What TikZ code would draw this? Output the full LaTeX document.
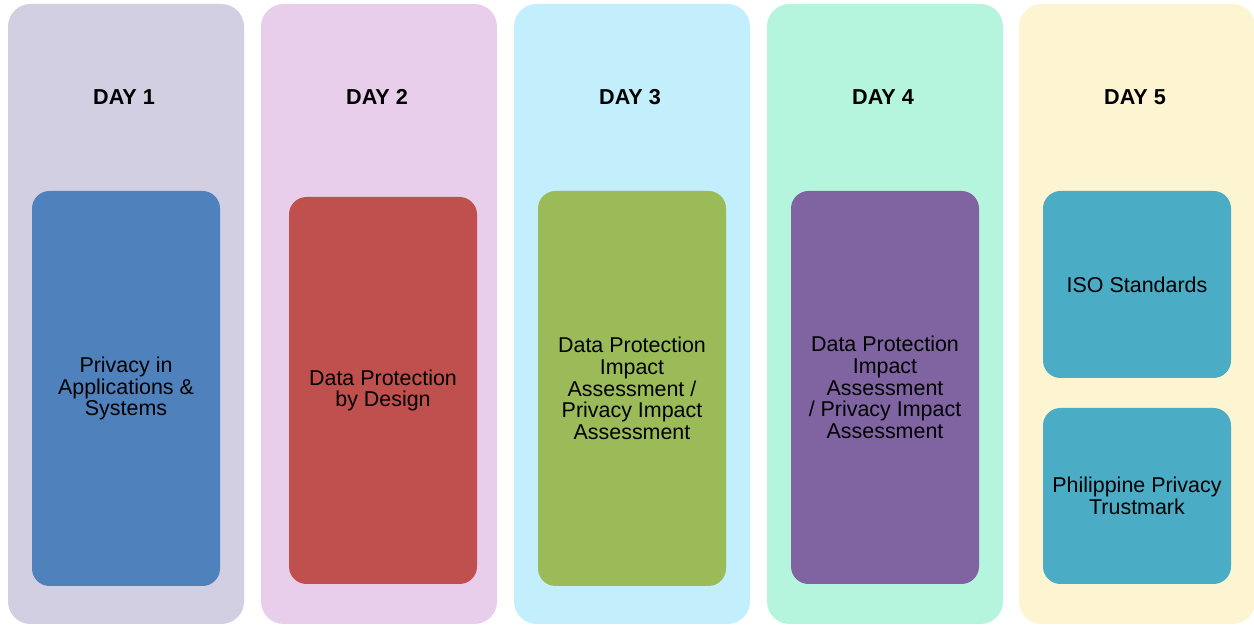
\documentclass[tikz,border=0pt]{standalone}
\usepackage{fontspec}
\setmainfont{Liberation Sans}
\usepackage{tikz}
\usetikzlibrary{positioning}

\definecolor{dayA}{HTML}{D2CFE3}
\definecolor{dayB}{HTML}{E8CEEA}
\definecolor{dayC}{HTML}{C3EEFB}
\definecolor{dayD}{HTML}{B6F5DD}
\definecolor{dayE}{HTML}{FDF4D1}
\definecolor{topicA}{HTML}{4F81BD}
\definecolor{topicB}{HTML}{C0504D}
\definecolor{topicC}{HTML}{9BBB59}
\definecolor{topicD}{HTML}{8064A2}
\definecolor{topicE}{HTML}{4BACC6}

\begin{document}
\begin{tikzpicture}[
  daycol/.style={rectangle,rounded corners=0.45cm,minimum width=4.72cm,minimum height=12.4cm,inner sep=0pt},
  daytitle/.style={font=\fontsize{12.3}{14}\selectfont\bfseries,text=black},
  topic/.style={rectangle,rounded corners=0.35cm,minimum width=3.76cm,inner sep=0pt,align=center,
    font=\fontsize{12.2}{12.3}\selectfont,text=black}
]
\useasboundingbox (0,0) rectangle (25.08,12.5);

\node[daycol,fill=dayA] (day1) at (2.52,6.22) {};
\node[daycol,fill=dayB] (day2) at (7.58,6.22) {};
\node[daycol,fill=dayC] (day3) at (12.64,6.22) {};
\node[daycol,fill=dayD] (day4) at (17.70,6.22) {};
\node[daycol,fill=dayE] (day5) at (22.74,6.22) {};

\node[daytitle] (title1) at (2.48,10.56) {DAY 1};
\node[daytitle] (title2) at (7.54,10.56) {DAY 2};
\node[daytitle] (title3) at (12.60,10.56) {DAY 3};
\node[daytitle] (title4) at (17.66,10.56) {DAY 4};
\node[daytitle] (title5) at (22.70,10.56) {DAY 5};

\node[topic,fill=topicA,minimum height=7.90cm] (privacy) at (2.52,4.73)
  {Privacy in\\Applications \&\\Systems};
\node[topic,fill=topicB,minimum height=7.74cm] (design) at (7.66,4.69)
  {Data Protection\\by Design};
\node[topic,fill=topicC,minimum height=7.90cm] (dpia) at (12.64,4.73)
  {Data Protection\\Impact\\Assessment /\\Privacy Impact\\Assessment};
\node[topic,fill=topicD,minimum height=7.86cm] (pia) at (17.70,4.75)
  {Data Protection\\Impact\\Assessment\\/ Privacy Impact\\Assessment};
\node[topic,fill=topicE,minimum height=3.74cm] (iso) at (22.74,6.81)
  {ISO Standards};
\node[topic,fill=topicE,minimum height=3.52cm] (trustmark) at (22.74,2.58)
  {Philippine Privacy\\Trustmark};

\end{tikzpicture}
\end{document}
